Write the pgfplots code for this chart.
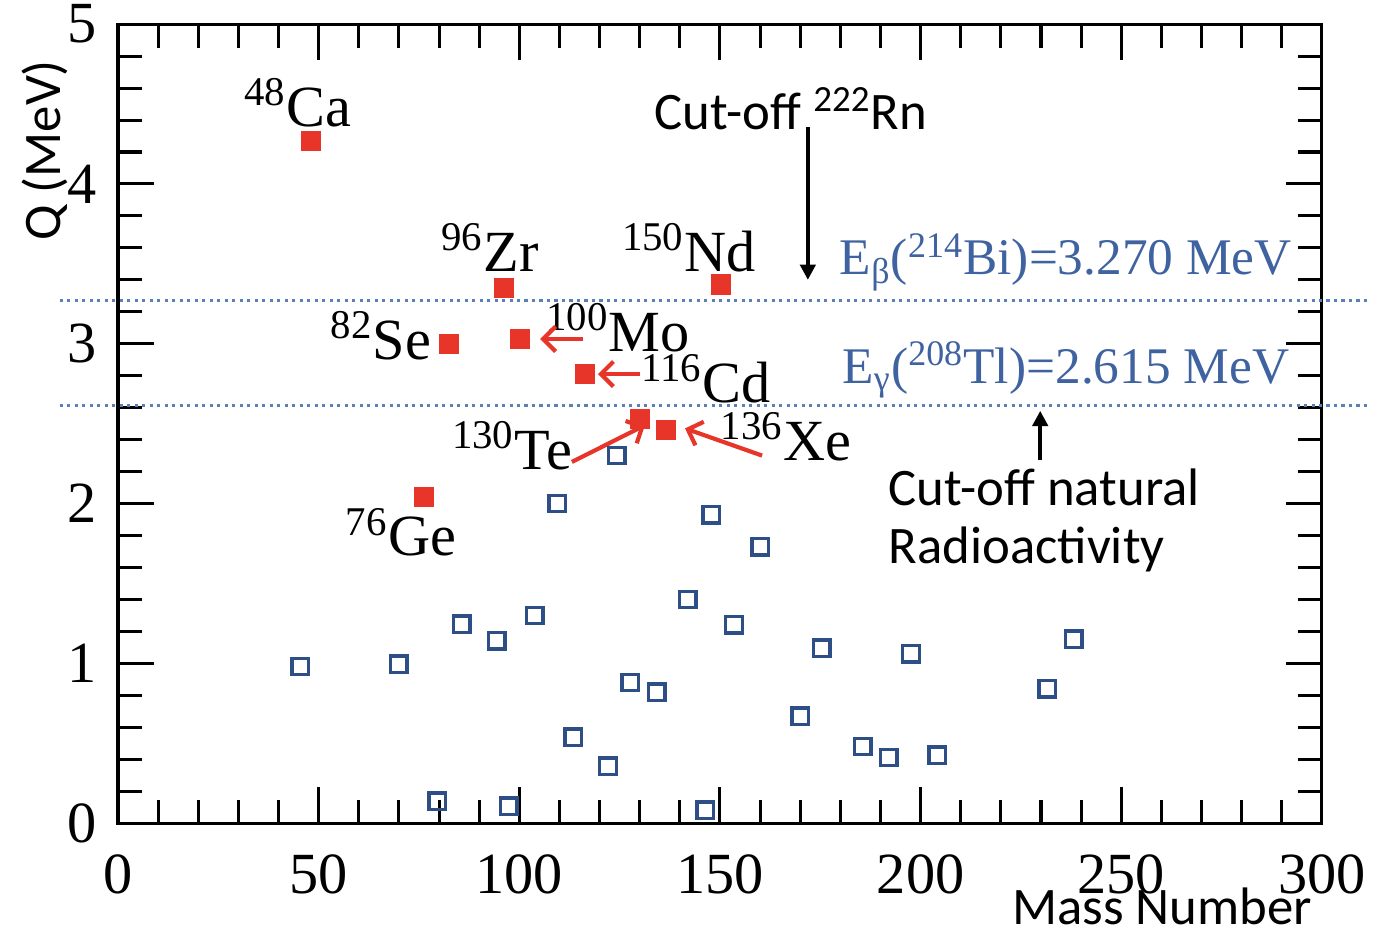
\documentclass[border=0pt]{standalone}
\usepackage{fontspec}
\setmainfont{Liberation Serif}
\newfontfamily\calfont{Carlito}
\usepackage{pgfplots}
\pgfplotsset{compat=1.18}
\usetikzlibrary{arrows.meta}
\definecolor{qred}{HTML}{E8352A}
\definecolor{qblue}{HTML}{2E4F86}
\definecolor{qdot}{HTML}{5B80B8}
\definecolor{qtxt}{HTML}{3F62A0}
\newcommand\iso[2]{\textsuperscript{#1}#2}
\tikzset{
  iso/.style={font=\fontsize{21}{21}\selectfont, inner sep=0pt},
  rarr/.style={qred, line width=1.5pt, -{Straight Barb[length=4.5pt,width=9pt,line width=1.5pt]}},
  barr/.style={black, line width=1.6pt, -{Triangle[length=5.5pt,width=5.5pt]}},
  cal/.style={font=\calfont\fontsize{19}{19}\selectfont, inner sep=0pt},
}
\begin{document}
\begin{tikzpicture}
\useasboundingbox (-42.5pt,-39.3pt) rectangle (457.5pt,296.5pt);
\begin{axis}[
  at={(0,0)}, anchor=south west,
  scale only axis, width=433.7pt, height=287.8pt,
  xmin=0, xmax=300, ymin=0, ymax=5,
  xtick={0,50,...,300}, minor x tick num=4,
  ytick={0,1,...,5}, minor y tick num=4,
  tick align=inside,
  major tick length=13pt, minor tick length=8.5pt,
  axis line style={line width=1.1pt},
  every tick/.style={black, line width=1.1pt},
  tick label style={font=\fontsize{21}{21}\selectfont},
  xticklabel style={yshift=-8pt},
  yticklabel style={xshift=-4pt},
  /pgf/number format/assume math mode=true,
  clip=false,
]
% red: candidate double-beta isotopes
\addplot[only marks, mark=square*, mark size=3.5pt, color=qred, mark options={line width=0.3pt}] coordinates {
 (48.1,4.27) (96.2,3.35) (150.3,3.37) (82.5,3.00) (100.2,3.03)
 (116.4,2.81) (130.0,2.53) (136.6,2.46) (76.3,2.04)
};
% blue: other isotopes
\addplot[only marks, mark=square, mark size=2.95pt, color=qblue, mark options={line width=1.2pt}] coordinates {
 (45.4,0.98) (70.0,0.995) (85.7,1.245) (94.4,1.14) (103.9,1.30)
 (79.5,0.138) (97.4,0.106) (113.4,0.538) (122.1,0.357) (124.3,2.30)
 (109.4,2.00) (127.6,0.88) (134.3,0.82) (146.3,0.08) (142.0,1.40)
 (147.8,1.93) (153.5,1.24) (160.0,1.73) (170.0,0.67) (175.4,1.095)
 (185.6,0.48) (192.1,0.41) (197.6,1.06) (204.1,0.425) (231.5,0.84)
 (238.2,1.15)
};
% threshold lines
\draw[qdot, line width=1.15pt, dash pattern=on 1.1pt off 1.6pt] (axis cs:-14.5,3.270) -- (axis cs:311.5,3.270);
\draw[qdot, line width=1.15pt, dash pattern=on 1.1pt off 1.6pt] (axis cs:-14.5,2.615) -- (axis cs:311.5,2.615);
% isotope labels
\node[iso] at (axis cs:44.8,4.51) {\iso{48}{Ca}};
\node[iso] at (axis cs:92.7,3.60) {\iso{96}{Zr}};
\node[iso] at (axis cs:142.3,3.60) {\iso{150}{Nd}};
\node[iso] at (axis cs:65.5,3.05) {\iso{82}{Se}};
\node[iso] at (axis cs:124.6,3.10) {\iso{100}{Mo}};
\node[iso] at (axis cs:146.5,2.78) {\iso{116}{Cd}};
\node[iso] at (axis cs:98.2,2.36) {\iso{130}{Te}};
\node[iso] at (axis cs:166.5,2.42) {\iso{136}{Xe}};
\node[iso] at (axis cs:70.5,1.82) {\iso{76}{Ge}};
% red arrows
\draw[rarr] (axis cs:115.9,3.03) -- (axis cs:105.2,3.03);
\draw[rarr] (axis cs:130.0,2.81) -- (axis cs:119.6,2.81);
\draw[rarr] (axis cs:113.1,2.26) -- (axis cs:131.3,2.49);
\draw[rarr] (axis cs:160.5,2.30) -- (axis cs:141.3,2.47);
% energy labels
\node[qtxt, font=\fontsize{18.5}{18.5}\selectfont, inner sep=0pt] at (axis cs:236.2,3.51) {E\textsubscript{β}(\textsuperscript{214}Bi)=3.270 MeV};
\node[qtxt, font=\fontsize{18.5}{18.5}\selectfont, inner sep=0pt] at (axis cs:236.2,2.835) {E\textsubscript{γ}(\textsuperscript{208}Tl)=2.615 MeV};
% cut-off annotations
\node[cal] at (axis cs:167.7,4.47) {Cut-off \textsuperscript{222}Rn};
\draw[barr] (axis cs:171.9,4.355) -- (axis cs:171.9,3.40);
\node[cal, anchor=west] at (axis cs:191.9,2.10) {Cut-off natural};
\node[cal, anchor=west] at (axis cs:191.9,1.71) {Radioactivity};
\draw[barr] (axis cs:229.8,2.27) -- (axis cs:229.8,2.58);
% axis labels
\node[cal] at (axis cs:260.2,-0.52) {Mass Number};
\node[cal, rotate=90] at (axis cs:-18.2,4.21) {Q (MeV)};
\end{axis}
\end{tikzpicture}
\end{document}
